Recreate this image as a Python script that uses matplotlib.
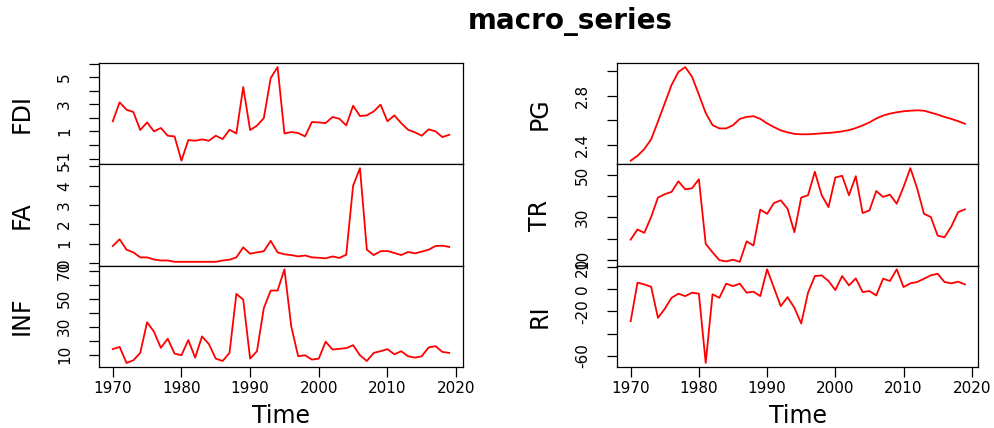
import numpy as np
import matplotlib
matplotlib.use("Agg")
import matplotlib.pyplot as plt

plt.rcParams['font.family'] = ['DejaVu Sans']

years = list(range(1970, 2020))

FDI = [1.74, 3.14, 2.6, 2.43, 1.1, 1.66, 1.0, 1.25, 0.68, 0.63,
       -1.16, 0.36, 0.31, 0.41, 0.31, 0.68, 0.43, 1.12, 0.85, 4.27,
       1.1, 1.42, 1.98, 4.93, 5.74, 0.85, 0.95, 0.88, 0.63, 1.69,
       1.66, 1.61, 2.06, 1.93, 1.44, 2.89, 2.13, 2.18, 2.47, 2.97,
       1.74, 2.18, 1.61, 1.12, 0.93, 0.68, 1.15, 1.0, 0.58, 0.75]
FA = [0.87, 1.22, 0.68, 0.54, 0.28, 0.28, 0.17, 0.12, 0.12, 0.05,
      0.05, 0.05, 0.05, 0.05, 0.05, 0.05, 0.12, 0.16, 0.28, 0.8,
      0.47, 0.54, 0.6, 1.14, 0.54, 0.44, 0.4, 0.33, 0.38, 0.28,
      0.26, 0.23, 0.33, 0.25, 0.42, 4.0, 4.91, 0.68, 0.4, 0.6,
      0.61, 0.51, 0.4, 0.56, 0.49, 0.58, 0.68, 0.87, 0.89, 0.82]
INF = [13.9, 15.5, 4.0, 5.9, 11.2, 33.1, 26.4, 14.8, 21.3, 10.7,
       9.5, 20.4, 7.8, 23.0, 17.5, 7.1, 5.4, 11.2, 53.4, 49.3,
       7.1, 12.4, 43.3, 55.8, 55.8, 71.0, 30.0, 8.8, 9.5, 6.4,
       7.1, 19.2, 13.6, 14.1, 14.6, 16.7, 9.5, 5.4, 11.2, 12.4,
       13.9, 10.2, 12.4, 8.8, 7.8, 8.8, 15.1, 16.0, 11.9, 11.2]
PG = [2.27, 2.31, 2.365, 2.445, 2.59, 2.74, 2.89, 2.996, 3.036, 2.956,
      2.81, 2.66, 2.561, 2.534, 2.534, 2.56, 2.612, 2.628, 2.634, 2.612,
      2.575, 2.545, 2.518, 2.502, 2.489, 2.486, 2.486, 2.489, 2.494, 2.497,
      2.502, 2.51, 2.52, 2.537, 2.558, 2.583, 2.615, 2.639, 2.655, 2.666,
      2.674, 2.679, 2.682, 2.679, 2.663, 2.647, 2.628, 2.612, 2.593, 2.572]
TR = [19.5, 24.3, 22.7, 30.2, 39.4, 41.0, 42.1, 47.1, 43.3, 43.8,
      48.1, 17.5, 13.5, 9.8, 9.2, 10.0, 9.0, 18.7, 16.7, 33.7,
      31.7, 36.8, 38.1, 34.1, 23.0, 39.4, 40.5, 51.6, 40.5, 34.9,
      48.9, 49.7, 40.5, 49.5, 32.1, 33.3, 42.5, 39.7, 40.8, 36.5,
      44.4, 53.3, 43.7, 31.7, 30.2, 21.4, 20.6, 25.7, 32.5, 33.8]
RI = [-28.8, 6.1, 4.5, 2.4, -25.8, -17.6, -7.6, -3.9, -6.1, -3.0,
      -3.9, -66.7, -4.5, -7.6, 5.2, 3.0, 5.2, -3.0, -2.1, -6.1,
      18.2, 1.5, -15.2, -7.0, -16.7, -30.9, -3.0, 12.1, 12.7, 7.6,
      -0.6, 12.1, 3.6, 10.0, -2.4, -1.5, -5.5, 9.7, 7.6, 18.2,
      2.1, 5.5, 6.7, 9.7, 12.7, 14.2, 6.7, 5.5, 7.0, 4.5]

series_names = ["FDI", "FA", "INF", "PG", "TR", "RI"]
series_values = [FDI, FA, INF, PG, TR, RI]
y_ticks = [[-1, 0, 1, 2, 3, 4, 5, 6], [0, 1, 2, 3, 4, 5],
           [10, 20, 30, 40, 50, 60, 70], [2.4, 2.6, 2.8, 3.0],
           [10, 20, 30, 40, 50], [-60, -40, -20, 0, 20]]
y_ticklabels = [["-1", "", "1", "", "3", "", "5", ""], ["0", "1", "2", "3", "4", "5"],
                ["10", "", "30", "", "50", "", "70"], ["2.4", "", "2.8", ""],
                ["10", "", "30", "", "50"], ["-60", "", "-20", "0", "20"]]
x_ticks = [1970, 1980, 1990, 2000, 2010, 2020]
title = "macro_series"
xlabel = "Time"

W, H = 994, 428
fig = plt.figure(figsize=(W / 100, H / 100), dpi=100)

col_left = [99.3, 617.3]
col_right = [462.7, 978.3]
top_px, bot_px = 63.3, 366.7
ph = (bot_px - top_px) / 3

x0, x1 = min(years), max(years)
xpad = 0.04 * (x1 - x0)

for i, (name, vals) in enumerate(zip(series_names, series_values)):
    col = i // 3
    row = i % 3
    l = col_left[col] / W
    w = (col_right[col] - col_left[col]) / W
    t = top_px + row * ph
    b = 1 - (t + ph) / H
    ax = fig.add_axes([l, b, w, ph / H])
    ax.plot(years, vals, color='#FF0000', lw=1.3)
    lo, hi = min(vals), max(vals)
    pad = 0.04 * (hi - lo)
    ax.set_ylim(lo - pad, hi + pad)
    ax.set_xlim(x0 - xpad, x1 + xpad)
    ax.set_yticks(y_ticks[i])
    ax.set_yticklabels(y_ticklabels[i], rotation=90, va='center')
    ax.tick_params(axis='y', length=7.5, width=0.9, pad=12, labelsize=11)
    for s in ax.spines.values():
        s.set_linewidth(0.9)
    if row == 2:
        ax.set_xticks(x_ticks)
        ax.set_xticklabels([str(v) for v in x_ticks])
        ax.tick_params(axis='x', length=7, width=0.9, pad=3, labelsize=11)
        cx = (col_left[col] + col_right[col]) / 2 / W
        fig.text(cx, 1 - 416 / H, xlabel, ha='center', va='center', fontsize=17)
    else:
        ax.set_xticks([])
    lx = (22 if col == 0 else 540) / W
    fig.text(lx, 1 - (t + ph / 2) / H, name, rotation=90, ha='center', va='center', fontsize=17)

fig.text(570 / W, 1 - 22 / H, title, ha='center', va='center', fontsize=20, fontweight='bold')

fig.savefig("out.png", dpi=100)
